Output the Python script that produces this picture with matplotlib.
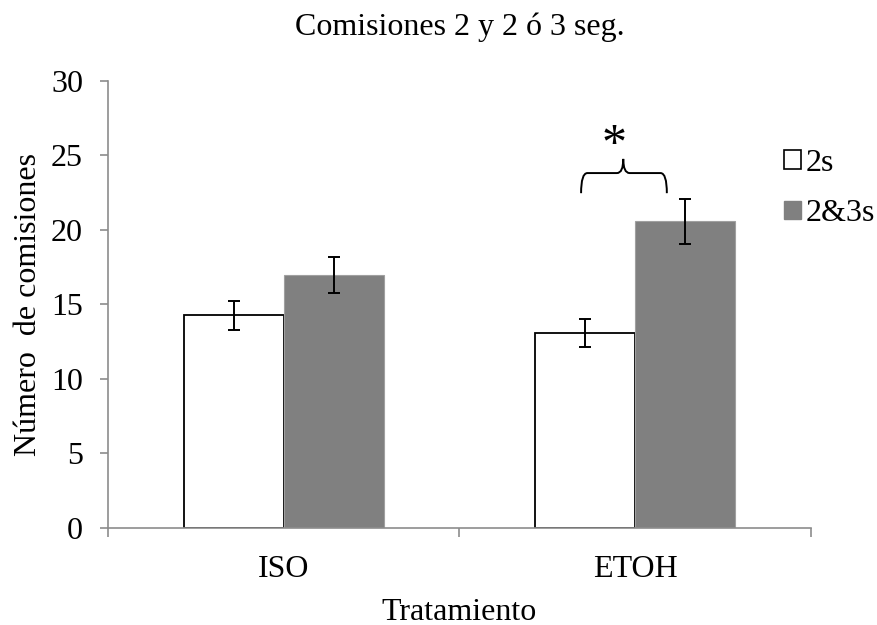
import matplotlib
matplotlib.use("Agg")
import matplotlib.pyplot as plt
from matplotlib.path import Path
from matplotlib.patches import PathPatch, Patch
import numpy as np

plt.rcParams['font.family'] = ['Liberation Serif', 'DejaVu Serif']

categories = ["ISO", "ETOH"]
series_names = ["2s", "2&3s"]
vals_2s = [14.25, 13.05]
vals_23s = [16.97, 20.55]
err_2s = [0.97, 0.93]
err_23s = [1.2, 1.52]
yticks = [0, 5, 10, 15, 20, 25, 30]

fig = plt.figure(figsize=(8.77, 6.25), dpi=100)
ax = fig.add_axes([0.1231, 0.1557, 0.8016, 0.7152])

x = np.arange(len(categories))
w = 0.2845
grey = "#808080"
axis_grey = "#8c8c8c"

ax.bar(x - w/2, vals_2s, w, color="white", edgecolor="black", linewidth=1.3, zorder=2)
ax.bar(x + w/2, vals_23s, w, color=grey, edgecolor="#a0a0a0", linewidth=0.8, zorder=2)
ax.errorbar(x - w/2, vals_2s, yerr=err_2s, fmt="none", ecolor="black",
            elinewidth=1.4, capsize=4.5, capthick=1.4, zorder=3)
ax.errorbar(x + w/2, vals_23s, yerr=err_23s, fmt="none", ecolor="black",
            elinewidth=1.4, capsize=4.5, capthick=1.4, zorder=3)

ax.set_xlim(-0.5, 1.5)
ax.set_ylim(0, 30)
ax.set_yticks(yticks)
ax.set_yticklabels([str(t) for t in yticks], fontsize=23)
ax.set_xticks(x)
ax.set_xticklabels(categories, fontsize=23)
ax.set_xticks([-0.5, 0.5, 1.5], minor=True)
ax.tick_params(axis="x", which="major", length=0, pad=19.5)
ax.tick_params(axis="x", which="minor", length=6.5, color=axis_grey, width=1.2)
ax.tick_params(axis="y", length=6, color=axis_grey, width=1.2, pad=12)
for s in ["top", "right"]:
    ax.spines[s].set_visible(False)
for s in ["left", "bottom"]:
    ax.spines[s].set_color(axis_grey)
    ax.spines[s].set_linewidth(1.2)

ax.set_xlabel("Tratamiento", fontsize=23, labelpad=10)
ax.set_ylabel("Número  de comisiones", fontsize=23, labelpad=6)
fig.text(0.5245, 0.957, "Comisiones 2 y 2 ó 3 seg.", fontsize=23, ha="center", va="center")

# significance brace
x0, x1 = 0.846, 1.09
xm = 0.966
yb, yh, yp = 22.45, 23.8, 24.75
r = 0.018
verts = [(x0, yb), (x0, yh), (x0 + r, yh),
         (xm - r, yh), (xm, yh), (xm, yp),
         (xm, yh), (xm + r, yh),
         (x1 - r, yh), (x1, yh), (x1, yb)]
codes = [Path.MOVETO, Path.CURVE3, Path.CURVE3,
         Path.LINETO, Path.CURVE3, Path.CURVE3,
         Path.CURVE3, Path.CURVE3,
         Path.LINETO, Path.CURVE3, Path.CURVE3]
ax.add_patch(PathPatch(Path(verts, codes), fill=False, edgecolor="black", linewidth=1.4, zorder=3))
ax.text(0.94, 25.6, "*", fontsize=36, ha="center", va="center")

handles = [Patch(facecolor="white", edgecolor="black", linewidth=1.2),
           Patch(facecolor=grey, edgecolor=grey)]
fig.legend(handles, series_names, loc="upper left", bbox_to_anchor=(0.894, 0.762),
           frameon=False, fontsize=23, handlelength=0.52, handleheight=0.52,
           handletextpad=0.15, labelspacing=0.68, borderaxespad=0, borderpad=0)

fig.savefig("out.png", dpi=100)
